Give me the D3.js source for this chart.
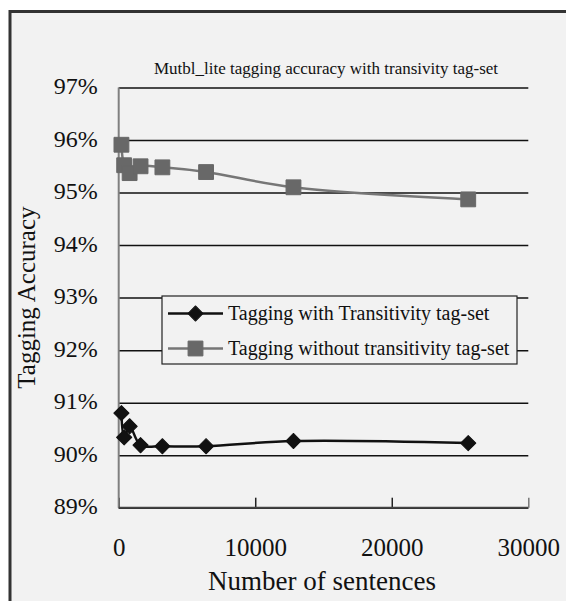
<!DOCTYPE html>
<html lang="en">
  <head>
    <meta charset="utf-8">
    <title>Mutbl_lite tagging accuracy</title>
    <script src="https://cdn.jsdelivr.net/npm/d3@7"></script>
    <style>
      body { margin: 0; background: #ffffff; }
      text { font-family: 'Liberation Serif', 'DejaVu Serif', serif; fill: #111; }
    </style>
  </head>
  <body>
    <svg width="566" height="601" id="mainsvg"></svg>
    <script>
      // data
      const sentences = [200, 400, 800, 1600, 3200, 6400, 12800, 25600];
      const withTrans = [90.80, 90.34, 90.55, 90.19, 90.17, 90.17, 90.27, 90.23];
      const withoutTrans = [95.91, 95.52, 95.37, 95.50, 95.48, 95.39, 95.10, 94.87];
      const seriesNames = ['Tagging with Transitivity tag-set', 'Tagging without transitivity tag-set'];
      const yTicks = [89, 90, 91, 92, 93, 94, 95, 96, 97];
      const xTicks = [0, 10000, 20000, 30000];
      const title = 'Mutbl_lite tagging accuracy with transivity tag-set';
      const xAxisLabel = 'Number of sentences';
      const yAxisLabel = 'Tagging Accuracy';

      const fontFamily = "'Liberation Serif', 'DejaVu Serif', serif";
      const svg = d3.select('#mainsvg');
      const width = +svg.attr('width');
      const height = +svg.attr('height');
      const margin = { top: 87.5, left: 118.7, right: width - 528.3, bottom: height - 507.7 };
      const innerWidth = width - margin.left - margin.right;
      const innerHeight = height - margin.top - margin.bottom;

      // frame (runs off the right and bottom edges in the original)
      svg.append('rect')
        .attr('x', 10).attr('y', 11.5)
        .attr('width', width - 10).attr('height', height - 11.5)
        .attr('fill', '#f2f2f2');
      svg.append('path')
        .attr('d', `M10,${height} V11.5 H${width}`)
        .attr('fill', 'none')
        .attr('stroke', '#333').attr('stroke-width', 3);

      svg.append('text').text(title)
        .attr('x', 326).attr('y', 74)
        .attr('text-anchor', 'middle')
        .attr('font-family', fontFamily)
        .attr('font-size', 17);

      const xScale = d3.scaleLinear().domain([0, 30000]).range([0, innerWidth]);
      const yScale = d3.scaleLinear().domain([89, 97]).range([innerHeight, 0]);

      const g = svg.append('g')
        .attr('transform', `translate(${margin.left}, ${margin.top})`)
        .attr('id', 'maingroup');

      // y axis + gridlines
      const yAxis = d3.axisLeft(yScale)
        .tickValues(yTicks)
        .tickFormat(d => d + '%')
        .tickSize(-innerWidth)
        .tickPadding(21);
      const yAxisGroup = g.append('g').call(yAxis)
        .attr('font-family', fontFamily);
      yAxisGroup.selectAll('.domain').remove();
      yAxisGroup.selectAll('.tick line')
        .attr('stroke', '#111').attr('stroke-width', 1.5);
      yAxisGroup.selectAll('.tick text')
        .attr('font-size', 24).attr('fill', '#111')
        .attr('dy', '0.25em');

      // x axis
      const xAxis = d3.axisBottom(xScale)
        .tickValues(xTicks)
        .tickFormat(d3.format('d'))
        .tickSize(-10)
        .tickPadding(31);
      const xAxisGroup = g.append('g').call(xAxis)
        .attr('font-family', fontFamily)
        .attr('transform', `translate(0, ${innerHeight})`);
      xAxisGroup.select('.domain').remove();
      xAxisGroup.selectAll('.tick line')
        .attr('stroke', (d, i) => i === 3 ? '#777' : '#222').attr('stroke-width', 1.5);
      xAxisGroup.selectAll('.tick text')
        .attr('font-size', 25).attr('fill', '#111');

      // axis lines
      g.append('line')
        .attr('x1', 0).attr('x2', 0).attr('y1', 0).attr('y2', innerHeight)
        .attr('stroke', '#808080').attr('stroke-width', 2);
      g.append('line')
        .attr('x1', 0).attr('x2', innerWidth).attr('y1', innerHeight).attr('y2', innerHeight)
        .attr('stroke', '#444').attr('stroke-width', 2);

      // axis titles
      svg.append('text').text(xAxisLabel)
        .attr('x', 322).attr('y', 590)
        .attr('text-anchor', 'middle')
        .attr('font-family', fontFamily)
        .attr('font-size', 27);
      svg.append('text').text(yAxisLabel)
        .attr('transform', `translate(35, ${margin.top + innerHeight / 2}) rotate(-90)`)
        .attr('text-anchor', 'middle')
        .attr('font-family', fontFamily)
        .attr('font-size', 25);

      // lines
      const line = d3.line()
        .x(d => xScale(d[0]))
        .y(d => yScale(d[1]))
        .curve(d3.curveCatmullRom);

      const series = [
        { name: seriesNames[1], values: withoutTrans, stroke: '#767676', fill: '#686868', shape: 'square' },
        { name: seriesNames[0], values: withTrans, stroke: '#111', fill: '#111', shape: 'diamond' }
      ];
      const symbolFor = s => s.shape === 'square'
        ? d3.symbol(d3.symbolSquare, 220)()
        : d3.symbol(d3.symbolSquare, 115)();

      series.forEach(s => {
        const pts = sentences.map((x, i) => [x, s.values[i]]);
        g.append('path')
          .datum(pts)
          .attr('d', line)
          .attr('fill', 'none')
          .attr('stroke', s.stroke)
          .attr('stroke-width', 2.5);
        g.selectAll(null)
          .data(pts)
          .enter().append('path')
          .attr('d', symbolFor(s))
          .attr('transform', d => `translate(${xScale(d[0])}, ${yScale(d[1])})` + (s.shape === 'diamond' ? ' rotate(45)' : ''))
          .attr('fill', s.fill)
          .attr('stroke', s.fill)
          .attr('stroke-width', 1)
          .attr('stroke-linejoin', 'round');
      });

      // legend
      const legend = svg.append('g').attr('transform', 'translate(162, 296)');
      legend.append('rect')
        .attr('width', 355).attr('height', 68)
        .attr('fill', '#f2f2f2')
        .attr('stroke', '#222').attr('stroke-width', 1.2);
      const legendItems = [series[1], series[0]];
      const item = legend.selectAll('.legend')
        .data(legendItems)
        .enter().append('g')
        .attr('class', 'legend')
        .attr('transform', (d, i) => `translate(0, ${17.5 + i * 35})`);
      item.append('line')
        .attr('x1', 6).attr('x2', 61)
        .attr('stroke', d => d.stroke).attr('stroke-width', 2.5);
      item.append('path')
        .attr('d', d => symbolFor(d))
        .attr('transform', d => 'translate(33.5, 0)' + (d.shape === 'diamond' ? ' rotate(45)' : ''))
        .attr('fill', d => d.fill)
        .attr('stroke', d => d.fill)
        .attr('stroke-linejoin', 'round');
      item.append('text')
        .text(d => d.name)
        .attr('x', 66)
        .attr('dy', '0.33em')
        .attr('font-family', fontFamily)
        .attr('font-size', 20);
    </script>
  </body>
</html>
